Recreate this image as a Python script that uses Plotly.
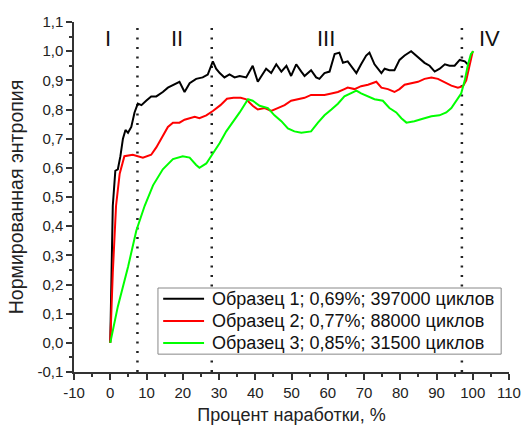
import plotly.graph_objects as go

# Образец 1 (0,69 %; 397000 циклов)
s1_x = [0, 0.3, 0.7, 1.4, 2.1, 2.8, 3.5, 4.2, 4.9, 5.8, 6.7, 7.6, 8.6, 9.9, 11.3, 12.7,
        14.5, 15.9, 17.7, 19.1, 20.5, 21.9, 23.7, 25.5, 26.9, 28.3, 29.2, 30.2, 31.5,
        32.9, 34.3, 35.7, 37.5, 39.3, 40.7, 42.1, 43.0, 44.4, 45.8, 47.2, 48.6, 49.9,
        51.3, 52.7, 53.6, 55.4, 56.8, 57.7, 59.1, 60.5, 61.9, 63.2, 64.2, 65.5, 66.5,
        67.9, 69.2, 70.6, 71.5, 72.9, 74.8, 75.7, 77.0, 78.4, 79.8, 81.2, 83.0, 84.9,
        86.7, 88.1, 89.5, 90.9, 92.3, 93.6, 95.0, 96.4, 97.8, 99.0]
s1_y = [0.0, 0.22, 0.47, 0.59, 0.595, 0.64, 0.70, 0.73, 0.72, 0.74, 0.79, 0.82, 0.815,
        0.83, 0.845, 0.845, 0.86, 0.875, 0.885, 0.895, 0.86, 0.89, 0.905, 0.91, 0.92,
        0.965, 0.94, 0.925, 0.91, 0.92, 0.91, 0.915, 0.91, 0.95, 0.895, 0.925, 0.94,
        0.925, 0.955, 0.93, 0.95, 0.915, 0.955, 0.93, 0.915, 0.935, 0.91, 0.905, 0.925,
        0.93, 0.99, 0.995, 0.96, 0.965, 0.95, 0.925, 0.955, 0.985, 0.995, 0.955, 0.925,
        0.94, 0.935, 0.935, 0.97, 0.985, 1.0, 0.98, 0.96, 0.95, 0.93, 0.94, 0.955, 0.95,
        0.95, 0.97, 0.965, 0.95]

# Образец 2 (0,77 %; 88000 циклов)
s2_x = [0, 0.7, 1.6, 2.6, 3.9, 6.2, 9.0, 11.3, 12.7, 14.5, 15.9, 17.3, 19.1, 20.5, 21.9,
        23.3, 24.6, 26.5, 28.3, 30.4, 32.2, 34.0, 36.0, 37.5, 39.3, 40.7, 42.6, 44.4,
        46.2, 48.1, 49.9, 51.8, 53.6, 55.4, 57.3, 59.1, 61.0, 62.8, 64.6, 65.5, 67.4,
        69.2, 71.1, 73.4, 74.8, 76.6, 78.4, 79.8, 81.2, 83.0, 84.9, 86.7, 88.6, 90.4,
        92.2, 94.1, 95.9, 97.3, 98.2, 99.1, 100.0]
s2_y = [0.0, 0.24, 0.47, 0.58, 0.64, 0.645, 0.635, 0.645, 0.67, 0.71, 0.74, 0.755, 0.755,
        0.765, 0.77, 0.775, 0.77, 0.78, 0.795, 0.815, 0.837, 0.84, 0.84, 0.835, 0.813,
        0.80, 0.805, 0.795, 0.805, 0.815, 0.83, 0.835, 0.84, 0.85, 0.85, 0.85, 0.855,
        0.86, 0.87, 0.875, 0.87, 0.88, 0.885, 0.895, 0.875, 0.87, 0.86, 0.87, 0.885,
        0.89, 0.895, 0.905, 0.91, 0.905, 0.895, 0.882, 0.875, 0.88, 0.90, 0.95, 1.0]

# Образец 3 (0,85 %; 31500 циклов)
s3_x = [0, 2.1, 4.9, 7.2, 9.5, 11.8, 14.5, 17.3, 20.0, 21.9, 23.7, 24.6, 26.5, 28.3,
        30.2, 32.0, 33.8, 35.7, 38.0, 39.3, 41.2, 43.5, 45.3, 47.2, 49.0, 50.8, 52.7,
        55.4, 57.3, 59.1, 61.0, 62.8, 64.6, 66.5, 67.9, 69.2, 71.1, 72.9, 75.2, 77.0,
        78.9, 80.3, 81.7, 83.9, 86.2, 88.6, 90.8, 92.7, 94.1, 95.4, 96.8, 97.8, 98.7,
        99.5, 100.2]
s3_y = [0.0, 0.125, 0.26, 0.385, 0.47, 0.54, 0.595, 0.63, 0.64, 0.635, 0.61, 0.60, 0.615,
        0.65, 0.685, 0.725, 0.755, 0.79, 0.835, 0.83, 0.813, 0.805, 0.78, 0.76, 0.735,
        0.725, 0.72, 0.725, 0.755, 0.78, 0.80, 0.82, 0.845, 0.855, 0.865, 0.855, 0.845,
        0.835, 0.83, 0.805, 0.79, 0.77, 0.755, 0.76, 0.768, 0.777, 0.78, 0.79, 0.805,
        0.83, 0.855, 0.90, 0.955, 0.99, 1.0]

series_names = ["Образец 1; 0,69%; 397000 циклов",
                "Образец 2; 0,77%; 88000 циклов",
                "Образец 3; 0,85%; 31500 циклов"]
series_colors = ["#000000", "#ff0000", "#00ff00"]

# Stage boundaries and stage labels
stage_bounds = [7.5, 28.0, 97.0]
stage_labels = ["I", "II", "III", "IV"]
stage_label_x = [-0.5, 18.5, 59.5, 104.5]
stage_label_y = 1.045

x_tickvals = [-10, 0, 10, 20, 30, 40, 50, 60, 70, 80, 90, 100, 110]
x_ticktext = ["-10", "0", "10", "20", "30", "40", "50", "60", "70", "80", "90", "100", "110"]
y_tickvals = [-0.1, 0.0, 0.1, 0.2, 0.3, 0.4, 0.5, 0.6, 0.7, 0.8, 0.9, 1.0, 1.1]
y_ticktext = ["-0,1", "0,0", "0,1", "0,2", "0,3", "0,4", "0,5", "0,6", "0,7", "0,8",
              "0,9", "1,0", "1,1"]

FONT = "Liberation Sans, Arial, sans-serif"
TEXT_COLOR = "#222222"

fig = go.Figure()
for xs, ys, name, color in zip([s1_x, s2_x, s3_x], [s1_y, s2_y, s3_y],
                               series_names, series_colors):
    fig.add_trace(go.Scatter(x=xs, y=ys, mode="lines", name=name,
                             line=dict(color=color, width=2), showlegend=False))

for xb in stage_bounds:
    fig.add_shape(type="line", xref="x", yref="y", x0=xb, x1=xb, y0=-0.1, y1=1.105,
                  line=dict(color="#222222", width=2.5, dash="2px,7.5px"), layer="below")

for lx, lt in zip(stage_label_x, stage_labels):
    fig.add_annotation(x=lx, y=stage_label_y, text=lt, showarrow=False,
                       font=dict(family=FONT, size=22, color="#111111"))

# Legend box in the lower right of the plot area (paper coordinates)
leg_x0, leg_x1, leg_y0, leg_y1 = 0.193, 0.982, 0.051, 0.240
leg_line_x0, leg_line_x1, leg_text_x = 0.205, 0.299, 0.313
leg_rows = [0.209, 0.146, 0.083]
fig.add_shape(type="rect", xref="paper", yref="paper", x0=leg_x0, x1=leg_x1,
              y0=leg_y0, y1=leg_y1, line=dict(color="#888888", width=1),
              fillcolor="white", layer="above")
for ry, name, color in zip(leg_rows, series_names, series_colors):
    fig.add_shape(type="line", xref="paper", yref="paper", x0=leg_line_x0,
                  x1=leg_line_x1, y0=ry, y1=ry, line=dict(color=color, width=2),
                  layer="above")
    fig.add_annotation(xref="paper", yref="paper", x=leg_text_x, y=ry, text=name,
                       showarrow=False, xanchor="left", yanchor="middle",
                       font=dict(family=FONT, size=18, color="#111111"))

axis_common = dict(
    showline=True, linecolor="#333333", linewidth=1.5, mirror=False,
    ticks="outside", ticklen=6, tickwidth=1.5, tickcolor="#333333",
    showgrid=False, zeroline=False, automargin=False,
    tickfont=dict(family=FONT, size=15, color=TEXT_COLOR),
)

fig.update_xaxes(range=[-10, 110], tickmode="array", tickvals=x_tickvals,
                 ticktext=x_ticktext,
                 minor=dict(ticks="outside", ticklen=3, tickwidth=1.5,
                            tickcolor="#333333", dtick=5, tick0=-10),
                 title=dict(text="Процент наработки, %",
                            font=dict(family=FONT, size=18, color=TEXT_COLOR),
                            standoff=10),
                 **axis_common)
fig.update_yaxes(range=[-0.1, 1.1], tickmode="array", tickvals=y_tickvals,
                 ticktext=y_ticktext,
                 minor=dict(ticks="outside", ticklen=3, tickwidth=1.5,
                            tickcolor="#333333", dtick=0.05, tick0=-0.1),
                 title=dict(text="Нормированная энтропия",
                            font=dict(family=FONT, size=19.5, color=TEXT_COLOR),
                            standoff=9),
                 **axis_common)

fig.update_layout(
    width=523, height=425,
    margin=dict(l=74, r=14, t=22, b=53),
    paper_bgcolor="white", plot_bgcolor="white",
    showlegend=False,
)

fig.write_html("out.html")
